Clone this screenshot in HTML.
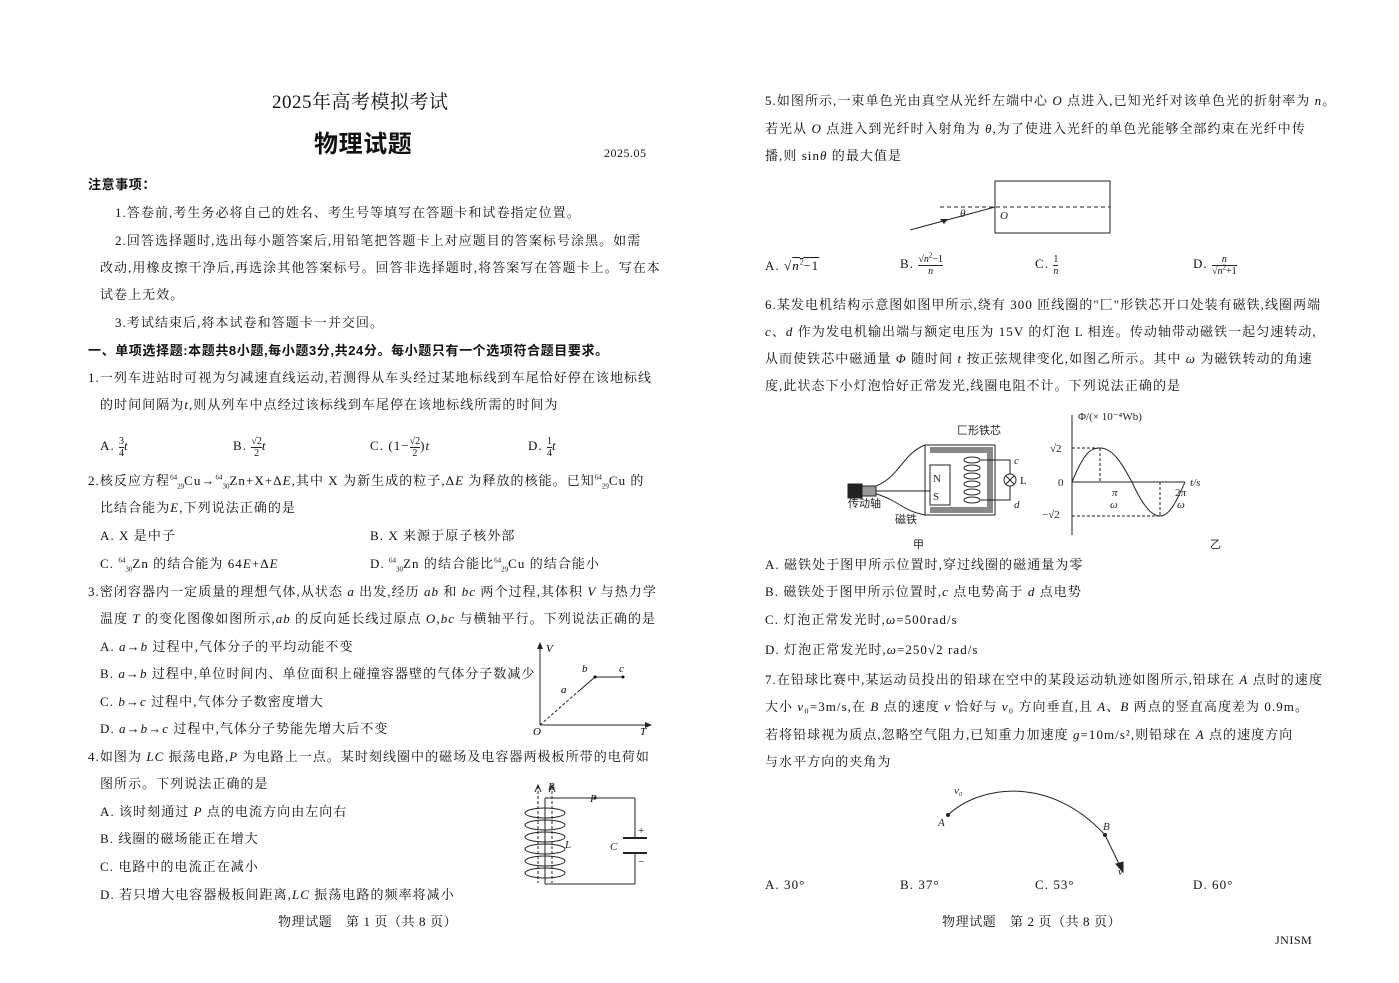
<!DOCTYPE html>
<html><head><meta charset="utf-8"><style>
body{margin:0;background:#fff;}
#p{position:relative;width:1399px;height:983px;overflow:hidden;background:#fff;font-family:"Liberation Serif","Noto Serif CJK SC",serif;color:#111;font-size:13px;}
.t{position:absolute;white-space:nowrap;letter-spacing:1.05px;line-height:16px;}
.b{font-weight:bold;font-family:"Liberation Sans","Noto Sans CJK SC",sans-serif;letter-spacing:0.6px;}
i{font-style:italic;}
.fr{display:inline-block;vertical-align:middle;text-align:center;font-size:10px;line-height:11px;letter-spacing:0;}
.fr span{display:block;}
.fr span:first-child{border-bottom:1px solid #222;}
sup,sub{font-size:7px;line-height:0;letter-spacing:0;}
</style></head><body><div id="p">
<div class="t" style="left:272px;top:92px;font-size:19px;line-height:22px;letter-spacing:0.5px;">2025年高考模拟考试</div>
<div class="t b" style="left:314px;top:131px;font-size:24px;line-height:28px;">物理试题</div>
<div class="t" style="left:604px;top:145px;font-size:12px;letter-spacing:0.5px;">2025.05</div>
<div class="t b" style="left:88px;top:177px;">注意事项：</div>
<div class="t" style="left:115px;top:205px;">1.答卷前,考生务必将自己的姓名、考生号等填写在答题卡和试卷指定位置。</div>
<div class="t" style="left:115px;top:233px;">2.回答选择题时,选出每小题答案后,用铅笔把答题卡上对应题目的答案标号涂黑。如需</div>
<div class="t" style="left:100px;top:260px;">改动,用橡皮擦干净后,再选涂其他答案标号。回答非选择题时,将答案写在答题卡上。写在本</div>
<div class="t" style="left:100px;top:287px;">试卷上无效。</div>
<div class="t" style="left:115px;top:315px;">3.考试结束后,将本试卷和答题卡一并交回。</div>
<div class="t b" style="left:88px;top:343px;">一、单项选择题:本题共8小题,每小题3分,共24分。每小题只有一个选项符合题目要求。</div>
<div class="t" style="left:88px;top:370px;">1.一列车进站时可视为匀减速直线运动,若测得从车头经过某地标线到车尾恰好停在该地标线</div>
<div class="t" style="left:100px;top:397px;">的时间间隔为<i>t</i>,则从列车中点经过该标线到车尾停在该地标线所需的时间为</div>
<div class="t" style="left:100px;top:435px;line-height:22px;">A. <span class="fr"><span>3</span><span>4</span></span><i>t</i></div>
<div class="t" style="left:233px;top:435px;line-height:22px;">B. <span class="fr"><span>√2</span><span>2</span></span><i>t</i></div>
<div class="t" style="left:370px;top:435px;line-height:22px;">C. (1−<span class="fr"><span>√2</span><span>2</span></span>)<i>t</i></div>
<div class="t" style="left:528px;top:435px;line-height:22px;">D. <span class="fr"><span>1</span><span>4</span></span><i>t</i></div>
<div class="t" style="left:88px;top:473px;">2.核反应方程<sup>64</sup><sub>29</sub>Cu→<sup>64</sup><sub>30</sub>Zn+X+Δ<i>E</i>,其中 X 为新生成的粒子,Δ<i>E</i> 为释放的核能。已知<sup>64</sup><sub>29</sub>Cu 的</div>
<div class="t" style="left:100px;top:500px;">比结合能为<i>E</i>,下列说法正确的是</div>
<div class="t" style="left:100px;top:528px;">A. X 是中子</div>
<div class="t" style="left:370px;top:528px;">B. X 来源于原子核外部</div>
<div class="t" style="left:100px;top:556px;">C. <sup>64</sup><sub>30</sub>Zn 的结合能为 64<i>E</i>+Δ<i>E</i></div>
<div class="t" style="left:370px;top:556px;">D. <sup>64</sup><sub>30</sub>Zn 的结合能比<sup>64</sup><sub>29</sub>Cu 的结合能小</div>
<div class="t" style="left:88px;top:584px;">3.密闭容器内一定质量的理想气体,从状态 <i>a</i> 出发,经历 <i>ab</i> 和 <i>bc</i> 两个过程,其体积 <i>V</i> 与热力学</div>
<div class="t" style="left:100px;top:611px;">温度 <i>T</i> 的变化图像如图所示,<i>ab</i> 的反向延长线过原点 <i>O</i>,<i>bc</i> 与横轴平行。下列说法正确的是</div>
<div class="t" style="left:100px;top:639px;">A. <i>a</i>→<i>b</i> 过程中,气体分子的平均动能不变</div>
<div class="t" style="left:100px;top:666px;">B. <i>a</i>→<i>b</i> 过程中,单位时间内、单位面积上碰撞容器壁的气体分子数减少</div>
<div class="t" style="left:100px;top:694px;">C. <i>b</i>→<i>c</i> 过程中,气体分子数密度增大</div>
<div class="t" style="left:100px;top:721px;">D. <i>a</i>→<i>b</i>→<i>c</i> 过程中,气体分子势能先增大后不变</div>
<svg style="position:absolute;left:525px;top:640px" width="135" height="100" font-family="Liberation Serif" font-style="italic" font-size="11">
<line x1="15" y1="85" x2="15" y2="5" stroke="#222"/><path d="M12 9 L15 2 L18 9Z" fill="#222"/>
<line x1="15" y1="85" x2="125" y2="85" stroke="#222"/><path d="M120 82 L127 85 L120 88Z" fill="#222"/>
<line x1="15" y1="85" x2="55" y2="50" stroke="#222" stroke-dasharray="3,2"/>
<line x1="55" y1="50" x2="70" y2="37" stroke="#222"/><line x1="70" y1="37" x2="98" y2="37" stroke="#222"/>
<circle cx="70" cy="37" r="1.5"/><circle cx="98" cy="37" r="1.5"/>
<text x="21" y="12">V</text><text x="8" y="95">O</text><text x="115" y="95">T</text>
<text x="36" y="53">a</text><text x="57" y="32">b</text><text x="94" y="32">c</text></svg>
<div class="t" style="left:88px;top:749px;">4.如图为 <i>LC</i> 振荡电路,<i>P</i> 为电路上一点。某时刻线圈中的磁场及电容器两极板所带的电荷如</div>
<div class="t" style="left:100px;top:776px;">图所示。下列说法正确的是</div>
<div class="t" style="left:100px;top:804px;">A. 该时刻通过 <i>P</i> 点的电流方向由左向右</div>
<div class="t" style="left:100px;top:831px;">B. 线圈的磁场能正在增大</div>
<div class="t" style="left:100px;top:859px;">C. 电路中的电流正在减小</div>
<div class="t" style="left:100px;top:887px;">D. 若只增大电容器极板间距离,<i>LC</i> 振荡电路的频率将减小</div>
<svg style="position:absolute;left:510px;top:778px" width="150" height="112" font-family="Liberation Serif" font-style="italic" font-size="11" fill="none" stroke="#222">
<line x1="35" y1="20" x2="125" y2="20"/><line x1="125" y1="20" x2="125" y2="60"/><line x1="125" y1="75" x2="125" y2="106"/><line x1="35" y1="106" x2="125" y2="106"/>
<line x1="113" y1="60" x2="137" y2="60" stroke-width="2"/><line x1="113" y1="75" x2="137" y2="75" stroke-width="2"/>
<line x1="35" y1="20" x2="35" y2="106"/>
<g stroke-width="1"><ellipse cx="35" cy="35" rx="20" ry="5"/><ellipse cx="35" cy="47" rx="20" ry="5"/><ellipse cx="35" cy="59" rx="20" ry="5"/><ellipse cx="35" cy="71" rx="20" ry="5"/><ellipse cx="35" cy="83" rx="20" ry="5"/><ellipse cx="35" cy="95" rx="20" ry="5"/></g>
<line x1="28" y1="8" x2="28" y2="105" stroke-dasharray="3,2"/><line x1="42" y1="8" x2="42" y2="105" stroke-dasharray="3,2"/>
<path d="M25 14 L28 7 L31 14" /><path d="M39 14 L42 7 L45 14"/>
<g stroke="none" fill="#222"><text x="38" y="12">B</text><text x="80" y="24">P</text><circle cx="85" cy="20" r="1.5"/><text x="55" y="70">L</text><text x="100" y="72">C</text><text x="128" y="56" font-style="normal">+</text><text x="128" y="87" font-style="normal">−</text></g></svg>
<div class="t" style="left:278px;top:914px;letter-spacing:0.6px;">物理试题　第 1 页（共 8 页）</div>

<div class="t" style="left:765px;top:93px;">5.如图所示,一束单色光由真空从光纤左端中心 <i>O</i> 点进入,已知光纤对该单色光的折射率为 <i>n</i>。</div>
<div class="t" style="left:765px;top:121px;">若光从 <i>O</i> 点进入到光纤时入射角为 <i>θ</i>,为了使进入光纤的单色光能够全部约束在光纤中传</div>
<div class="t" style="left:765px;top:148px;">播,则 sin<i>θ</i> 的最大值是</div>
<svg style="position:absolute;left:900px;top:175px" width="220" height="65" font-family="Liberation Serif" font-style="italic" font-size="11" stroke="#222" fill="none">
<rect x="95" y="6" width="115" height="52"/><line x1="40" y1="32" x2="210" y2="32" stroke-dasharray="4,3"/>
<line x1="10" y1="55" x2="95" y2="32"/><path d="M40 44 L48 44 L44 49Z" fill="#222" stroke="none"/>
<g stroke="none" fill="#222"><text x="60" y="42">θ</text><text x="100" y="44">O</text></g></svg>
<div class="t" style="left:765px;top:255px;line-height:22px;">A. √<span style="text-decoration:overline"><i>n</i><sup>2</sup>−1</span></div>
<div class="t" style="left:900px;top:253px;line-height:22px;">B. <span class="fr"><span>√<i>n</i><sup>2</sup>−1</span><span><i>n</i></span></span></div>
<div class="t" style="left:1035px;top:253px;line-height:22px;">C. <span class="fr"><span>1</span><span><i>n</i></span></span></div>
<div class="t" style="left:1193px;top:253px;line-height:22px;">D. <span class="fr"><span><i>n</i></span><span>√<i>n</i><sup>2</sup>+1</span></span></div>
<div class="t" style="left:765px;top:297px;">6.某发电机结构示意图如图甲所示,绕有 300 匝线圈的"匚"形铁芯开口处装有磁铁,线圈两端</div>
<div class="t" style="left:765px;top:324px;"><i>c</i>、<i>d</i> 作为发电机输出端与额定电压为 15V 的灯泡 L 相连。传动轴带动磁铁一起匀速转动,</div>
<div class="t" style="left:765px;top:351px;">从而使铁芯中磁通量 <i>Φ</i> 随时间 <i>t</i> 按正弦规律变化,如图乙所示。其中 <i>ω</i> 为磁铁转动的角速</div>
<div class="t" style="left:765px;top:378px;">度,此状态下小灯泡恰好正常发光,线圈电阻不计。下列说法正确的是</div>
<svg style="position:absolute;left:840px;top:410px" width="390" height="145" font-family="Liberation Serif" font-size="11" stroke="#222" fill="none">
<path d="M90 40 L150 40 L150 100 L90 100" stroke-width="6" stroke="#888"/>
<rect x="85" y="35" width="70" height="70"/>
<rect x="90" y="55" width="20" height="40" fill="#fff"/>
<g><ellipse cx="132" cy="50" rx="8" ry="3"/><ellipse cx="132" cy="58" rx="8" ry="3"/><ellipse cx="132" cy="66" rx="8" ry="3"/><ellipse cx="132" cy="74" rx="8" ry="3"/><ellipse cx="132" cy="82" rx="8" ry="3"/><ellipse cx="132" cy="90" rx="8" ry="3"/></g>
<path d="M140 50 L170 50 L170 64"/><path d="M140 90 L170 90 L170 76"/><circle cx="170" cy="70" r="6"/><path d="M166 66 L174 74 M174 66 L166 74"/>
<path d="M30 78 C60 70 60 45 85 35"/><path d="M30 82 C60 90 60 100 85 105"/>
<rect x="8" y="74" width="14" height="14" fill="#222"/><rect x="22" y="76" width="14" height="10" fill="#999"/><line x1="36" y1="81" x2="90" y2="81"/>
<g stroke="none" fill="#222"><text x="93" y="72">N</text><text x="93" y="90">S</text><text x="117" y="24" font-family="Noto Sans CJK SC">匚形铁芯</text><text x="174" y="54" font-style="italic">c</text><text x="174" y="98" font-style="italic">d</text><text x="180" y="74">L</text><text x="8" y="97" font-family="Noto Sans CJK SC">传动轴</text><text x="55" y="113" font-family="Noto Sans CJK SC">磁铁</text><text x="73" y="138" font-family="Noto Sans CJK SC">甲</text><text x="370" y="138" font-family="Noto Sans CJK SC">乙</text></g>
<line x1="232" y1="125" x2="232" y2="5"/><line x1="232" y1="72" x2="345" y2="72"/>
<path d="M232 72 C245 40 252 38 260 38 C275 38 285 60 292 72 C300 90 310 106 320 106 C330 106 337 90 345 72"/>
<line x1="232" y1="38" x2="260" y2="38" stroke-dasharray="3,2"/><line x1="260" y1="38" x2="260" y2="72" stroke-dasharray="3,2"/>
<line x1="232" y1="106" x2="320" y2="106" stroke-dasharray="3,2"/><line x1="320" y1="72" x2="320" y2="106" stroke-dasharray="3,2"/>
<g stroke="none" fill="#222"><text x="238" y="10">Φ/(× 10⁻⁴Wb)</text><text x="210" y="42">√2</text><text x="218" y="76">0</text><text x="202" y="108">−√2</text><text x="350" y="76" font-style="italic">t/s</text><text x="272" y="86" font-style="italic">π</text><text x="270" y="98" font-style="italic">ω</text><text x="335" y="86">2π</text><text x="337" y="98" font-style="italic">ω</text></g></svg>
<div class="t" style="left:765px;top:557px;">A. 磁铁处于图甲所示位置时,穿过线圈的磁通量为零</div>
<div class="t" style="left:765px;top:584px;">B. 磁铁处于图甲所示位置时,<i>c</i> 点电势高于 <i>d</i> 点电势</div>
<div class="t" style="left:765px;top:612px;">C. 灯泡正常发光时,<i>ω</i>=500rad/s</div>
<div class="t" style="left:765px;top:642px;">D. 灯泡正常发光时,<i>ω</i>=250√2 rad/s</div>
<div class="t" style="left:765px;top:672px;">7.在铅球比赛中,某运动员投出的铅球在空中的某段运动轨迹如图所示,铅球在 <i>A</i> 点时的速度</div>
<div class="t" style="left:765px;top:699px;">大小 <i>v</i>₀=3m/s,在 <i>B</i> 点的速度 <i>v</i> 恰好与 <i>v</i>₀ 方向垂直,且 <i>A</i>、<i>B</i> 两点的竖直高度差为 0.9m。</div>
<div class="t" style="left:765px;top:727px;">若将铅球视为质点,忽略空气阻力,已知重力加速度 <i>g</i>=10m/s²,则铅球在 <i>A</i> 点的速度方向</div>
<div class="t" style="left:765px;top:754px;">与水平方向的夹角为</div>
<svg style="position:absolute;left:930px;top:780px" width="210" height="100" font-family="Liberation Serif" font-style="italic" font-size="11" stroke="#222" fill="none">
<path d="M18 35 C50 5 120 -5 175 55"/><line x1="175" y1="55" x2="192" y2="90"/><path d="M186 84 L193 92 L193 82Z" fill="#222"/>
<circle cx="18" cy="35" r="1.5" fill="#222"/><circle cx="175" cy="55" r="1.5" fill="#222"/>
<g stroke="none" fill="#222"><text x="24" y="14">v₀</text><text x="8" y="46">A</text><text x="173" y="50">B</text><text x="188" y="95">v</text></g></svg>
<div class="t" style="left:765px;top:877px;">A. 30°</div>
<div class="t" style="left:900px;top:877px;">B. 37°</div>
<div class="t" style="left:1035px;top:877px;">C. 53°</div>
<div class="t" style="left:1193px;top:877px;">D. 60°</div>
<div class="t" style="left:942px;top:914px;letter-spacing:0.6px;">物理试题　第 2 页（共 8 页）</div>
<div class="t" style="left:1275px;top:932px;font-size:12px;letter-spacing:0.5px;">JNISM</div>
</div></body></html>
